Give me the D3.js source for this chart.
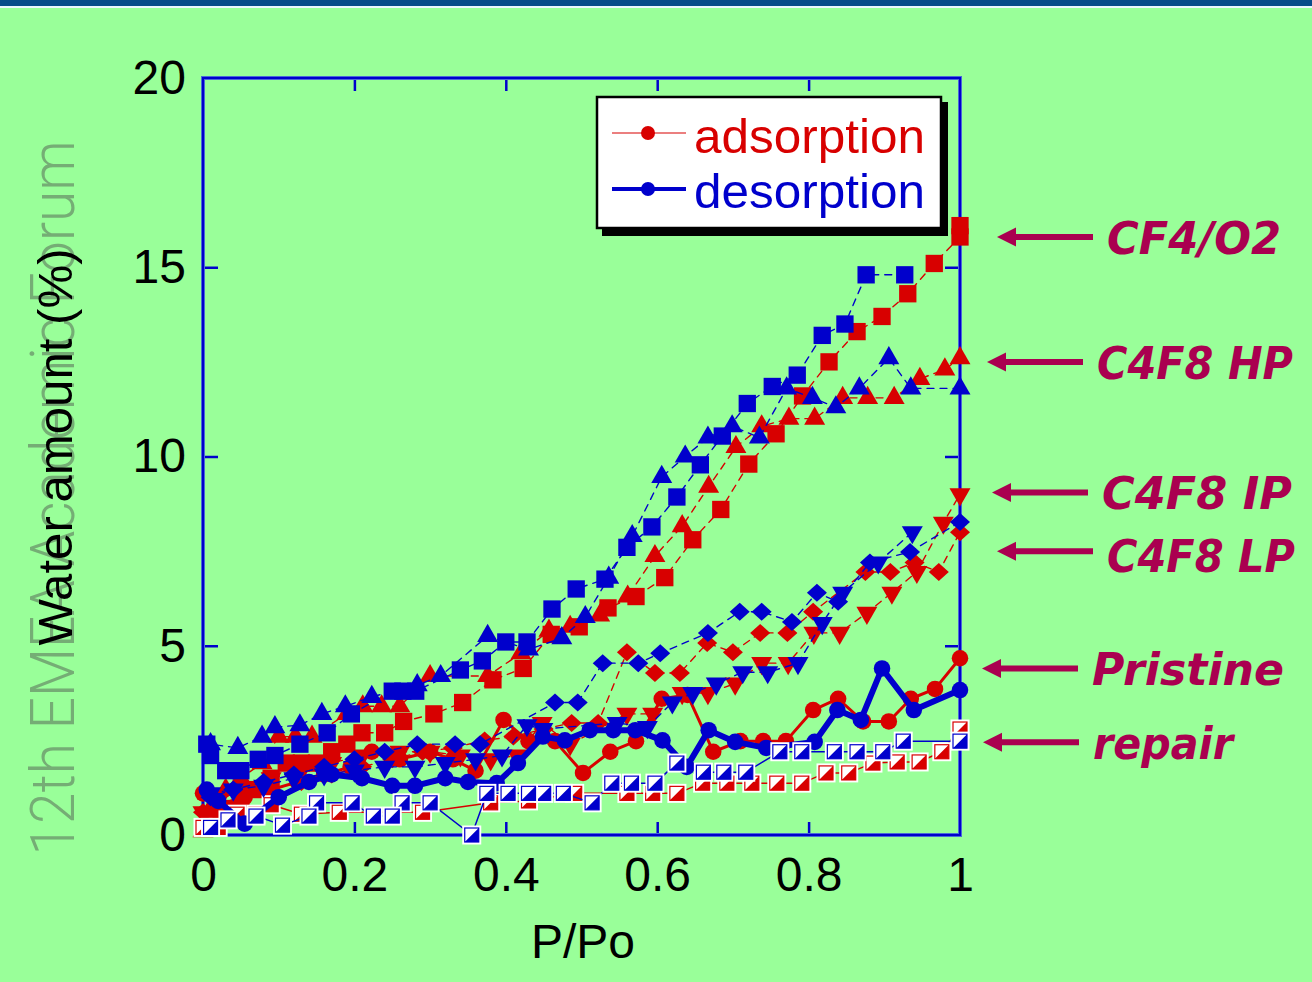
<!DOCTYPE html>
<html>
<head>
<meta charset="utf-8">
<script src="https://cdn.jsdelivr.net/npm/d3@7"></script>
<style>
  html, body { margin: 0; padding: 0; background: #99ff99; }
  svg { display: block; }
</style>
</head>
<body>
<svg id="chart" width="1312" height="982"></svg>
<script>
// ---- Water uptake isotherms: relative pressure P/Po vs water amount (%) ----

// CF4/O2 (squares)
const cf4AdsP = [0, 0.01, 0.03, 0.05, 0.07, 0.09, 0.11, 0.13, 0.15, 0.17, 0.19, 0.21, 0.24, 0.265, 0.305, 0.343, 0.383, 0.423, 0.46, 0.497, 0.535, 0.572, 0.61, 0.647, 0.684, 0.721, 0.757, 0.792, 0.827, 0.864, 0.897, 0.931, 0.966, 1.0, 1.0];
const cf4AdsW = [0.2, 0.4, 0.7, 0.9, 1.2, 1.5, 1.9, 1.9, 1.9, 2.2, 2.4, 2.7, 2.7, 3.0, 3.2, 3.5, 4.1, 4.4, 5.3, 5.5, 6.0, 6.3, 6.8, 7.8, 8.6, 9.8, 10.6, 11.6, 12.5, 13.3, 13.7, 14.3, 15.1, 15.8, 16.1];
const cf4DesP = [0.927, 0.876, 0.848, 0.818, 0.785, 0.752, 0.719, 0.686, 0.657, 0.626, 0.593, 0.56, 0.531, 0.493, 0.461, 0.428, 0.40, 0.369, 0.34, 0.281, 0.264, 0.25, 0.196, 0.164, 0.128, 0.095, 0.073, 0.05, 0.03, 0.01, 0.005];
const cf4DesW = [14.8, 14.8, 13.5, 13.2, 12.15, 11.85, 11.4, 10.54, 9.78, 8.93, 8.14, 7.6, 6.76, 6.5, 5.97, 5.1, 5.1, 4.6, 4.36, 3.8, 3.8, 3.8, 3.2, 2.7, 2.4, 2.1, 2.0, 1.7, 1.7, 2.1, 2.4];

// C4F8 HP (up triangles)
const hpAdsP = [0, 0.01, 0.03, 0.05, 0.078, 0.10, 0.122, 0.144, 0.19, 0.211, 0.236, 0.26, 0.30, 0.376, 0.42, 0.457, 0.485, 0.524, 0.561, 0.597, 0.633, 0.668, 0.704, 0.738, 0.774, 0.808, 0.845, 0.878, 0.913, 0.947, 0.98, 1.0];
const hpAdsW = [0.1, 0.7, 1.2, 1.5, 1.9, 2.6, 2.6, 2.6, 3.2, 3.4, 3.4, 3.4, 4.2, 4.2, 4.8, 5.4, 5.5, 5.8, 6.3, 7.37, 8.16, 9.2, 10.25, 10.8, 11.0, 11.0, 11.55, 11.55, 11.55, 12.05, 12.3, 12.6];
const hpDesP = [1.0, 0.935, 0.906, 0.867, 0.836, 0.805, 0.771, 0.735, 0.699, 0.667, 0.637, 0.606, 0.567, 0.536, 0.505, 0.474, 0.43, 0.376, 0.314, 0.283, 0.223, 0.188, 0.157, 0.128, 0.095, 0.078, 0.046, 0.01];
const hpDesW = [11.8, 11.8, 12.6, 11.8, 11.3, 11.55, 11.8, 10.5, 10.8, 10.5, 10.0, 9.46, 7.9, 6.8, 5.76, 5.2, 4.9, 5.26, 4.2, 3.96, 3.65, 3.4, 3.2, 2.9, 2.85, 2.6, 2.3, 2.4];

// C4F8 IP (down triangles)
const ipAdsP = [0, 0.02, 0.05, 0.09, 0.13, 0.17, 0.21, 0.26, 0.30, 0.34, 0.38, 0.415, 0.448, 0.485, 0.56, 0.594, 0.633, 0.667, 0.703, 0.738, 0.773, 0.807, 0.841, 0.877, 0.91, 0.943, 0.978, 1.0];
const ipAdsW = [0.6, 0.9, 1.2, 1.5, 1.7, 1.9, 2.1, 2.2, 2.2, 2.1, 2.0, 2.1, 2.96, 2.4, 3.2, 3.2, 3.75, 3.75, 4.0, 4.54, 4.54, 5.34, 5.34, 5.87, 6.4, 6.95, 8.25, 9.0];
const ipDesP = [0.937, 0.892, 0.845, 0.818, 0.786, 0.746, 0.713, 0.678, 0.647, 0.62, 0.587, 0.547, 0.449, 0.428, 0.395, 0.36, 0.32, 0.28, 0.24, 0.20, 0.16, 0.12, 0.08, 0.04, 0.01];
const ipDesW = [8.0, 7.2, 6.4, 5.6, 4.54, 4.3, 4.3, 4.0, 3.75, 3.5, 2.85, 2.96, 2.8, 2.9, 2.1, 2.0, 1.9, 1.8, 1.8, 1.7, 1.6, 1.5, 1.3, 1.2, 1.1];

// C4F8 LP (diamonds)
const lpAdsP = [0, 0.02, 0.05, 0.09, 0.13, 0.17, 0.21, 0.25, 0.29, 0.33, 0.372, 0.41, 0.45, 0.487, 0.522, 0.56, 0.597, 0.63, 0.666, 0.70, 0.736, 0.772, 0.806, 0.875, 0.908, 0.94, 0.972, 1.0];
const lpAdsW = [0.6, 0.8, 1.0, 1.2, 1.4, 1.6, 1.8, 2.0, 2.2, 2.3, 2.5, 2.6, 2.8, 2.96, 2.96, 4.83, 4.28, 4.28, 5.07, 4.83, 5.34, 5.34, 5.9, 6.95, 6.95, 7.2, 6.95, 8.0];
const lpDesP = [1.0, 0.934, 0.881, 0.839, 0.811, 0.778, 0.738, 0.709, 0.667, 0.604, 0.575, 0.528, 0.495, 0.465, 0.366, 0.333, 0.283, 0.24, 0.20, 0.16, 0.12, 0.08, 0.04, 0.01];
const lpDesW = [8.27, 7.48, 7.2, 6.16, 6.4, 5.63, 5.9, 5.9, 5.34, 4.8, 4.54, 4.54, 3.5, 3.5, 2.4, 2.4, 2.4, 2.2, 2.0, 1.8, 1.6, 1.4, 1.2, 1.0];

// Pristine (circles)
const priAdsP = [0, 0.02, 0.055, 0.09, 0.125, 0.16, 0.195, 0.223, 0.26, 0.30, 0.33, 0.36, 0.397, 0.43, 0.465, 0.502, 0.538, 0.572, 0.606, 0.64, 0.674, 0.71, 0.74, 0.77, 0.806, 0.839, 0.872, 0.906, 0.935, 0.967, 1.0];
const priAdsW = [1.1, 0.8, 1.0, 1.2, 1.4, 1.6, 1.8, 2.2, 2.0, 2.2, 2.0, 1.7, 3.04, 2.48, 2.48, 1.64, 2.2, 2.48, 3.6, 3.7, 2.2, 2.48, 2.48, 2.48, 3.3, 3.6, 3.0, 3.0, 3.6, 3.86, 4.67];
const priDesP = [1.0, 0.939, 0.897, 0.869, 0.838, 0.808, 0.744, 0.703, 0.668, 0.639, 0.607, 0.571, 0.542, 0.511, 0.478, 0.449, 0.416, 0.388, 0.35, 0.32, 0.28, 0.25, 0.21, 0.17, 0.14, 0.10, 0.055, 0.02, 0.005];
const priDesW = [3.83, 3.3, 4.4, 3.04, 3.3, 2.46, 2.3, 2.46, 2.77, 1.8, 2.5, 2.77, 2.77, 2.77, 2.5, 2.6, 1.9, 1.37, 1.4, 1.5, 1.3, 1.3, 1.5, 1.6, 1.4, 1.0, 0.3, 0.9, 1.2];

// repair (half-filled squares)
const repAdsP = [0, 0.02, 0.045, 0.07, 0.09, 0.13, 0.18, 0.29, 0.38, 0.43, 0.491, 0.56, 0.594, 0.626, 0.66, 0.692, 0.725, 0.758, 0.791, 0.823, 0.853, 0.885, 0.917, 0.946, 0.976, 1.0];
const repAdsW = [0.2, 0.2, 0.55, 0.55, 0.8, 0.55, 0.6, 0.6, 0.85, 0.9, 1.1, 1.1, 1.1, 1.1, 1.37, 1.37, 1.37, 1.37, 1.37, 1.64, 1.64, 1.9, 1.93, 1.93, 2.2, 2.8];
const repDesP = [1.0, 0.925, 0.898, 0.864, 0.834, 0.791, 0.762, 0.717, 0.688, 0.661, 0.626, 0.597, 0.566, 0.54, 0.514, 0.476, 0.45, 0.43, 0.403, 0.375, 0.355, 0.30, 0.263, 0.25, 0.225, 0.197, 0.15, 0.14, 0.105, 0.07, 0.033, 0.01];
const repDesW = [2.48, 2.48, 2.2, 2.2, 2.2, 2.2, 2.2, 1.66, 1.66, 1.66, 1.9, 1.37, 1.37, 1.37, 0.85, 1.1, 1.1, 1.1, 1.1, 1.1, 0.0, 0.85, 0.85, 0.5, 0.5, 0.85, 0.85, 0.5, 0.26, 0.5, 0.4, 0.2];

// Axis ticks and labels
const xTicks = [0, 0.2, 0.4, 0.6, 0.8, 1];
const yTicks = [0, 5, 10, 15, 20];
const legendLabels = ["adsorption", "desorption"];
const sampleLabels = ["CF4/O2", "C4F8 HP", "C4F8 IP", "C4F8 LP", "Pristine", "repair"];
// water level each sample label points to
const sampleLevels = [15.8, 12.5, 9.05, 7.5, 4.4, 2.45];

// ---- drawing ----
const RED = "#d80000", BLUE = "#0000cc", ARROW = "#aa0050";
const svg = d3.select("#chart");
const W = 1312, H = 982;
const plot = { left: 203, right: 960, top: 78, bottom: 835 };

const x = d3.scaleLinear().domain([0, 1]).range([plot.left, plot.right]);
const y = d3.scaleLinear().domain([0, 20]).range([plot.bottom, plot.top]);

// page background and header band
svg.append("rect").attr("width", W).attr("height", H).attr("fill", "#99ff99");
svg.append("rect").attr("width", W).attr("height", 6).attr("fill", "#064b8a");
svg.append("rect").attr("y", 6).attr("width", W).attr("height", 2).attr("fill", "#eaf6ff");

// faint vertical event caption on the left
svg.append("text")
  .attr("transform", "translate(74,498) rotate(-90)")
  .attr("text-anchor", "middle")
  .attr("font-family", "Roboto, 'Open Sans', sans-serif")
  .attr("font-weight", 300)
  .attr("font-size", 62)
  .attr("textLength", 715)
  .attr("lengthAdjust", "spacingAndGlyphs")
  .attr("fill", "#6f9f6f")
  .attr("fill-opacity", 0.85)
  .text("12th EMEA Academic Forum");

// y axis title
svg.append("text")
  .attr("transform", "translate(72,447) rotate(-90)")
  .attr("text-anchor", "middle")
  .attr("font-family", "'Liberation Sans', Arial, sans-serif")
  .attr("font-size", 48)
  .attr("textLength", 397)
  .attr("lengthAdjust", "spacingAndGlyphs")
  .attr("fill", "#000")
  .text("Water amount (%)");

// x axis title
svg.append("text")
  .attr("x", 583).attr("y", 958)
  .attr("text-anchor", "middle")
  .attr("font-family", "'Liberation Sans', Arial, sans-serif")
  .attr("font-size", 48)
  .attr("fill", "#000")
  .text("P/Po");

// axes with inward ticks
function styleAxis(g, showLabels) {
  g.select(".domain").remove();
  g.selectAll(".tick line").attr("stroke", BLUE).attr("stroke-width", 2.5);
  g.selectAll(".tick text")
    .attr("font-family", "'Liberation Sans', Arial, sans-serif")
    .attr("font-size", 48)
    .attr("fill", "#000")
    .style("display", showLabels ? null : "none");
}
svg.append("g").attr("transform", `translate(${plot.left},0)`)
  .call(d3.axisLeft(y).tickValues(yTicks).tickSizeInner(-15).tickSizeOuter(0).tickPadding(17).tickFormat(d3.format("d")))
  .call(g => styleAxis(g, true));
svg.append("g").attr("transform", `translate(${plot.right},0)`)
  .call(d3.axisRight(y).tickValues(yTicks).tickSizeInner(-15).tickSizeOuter(0))
  .call(g => styleAxis(g, false));
svg.append("g").attr("transform", `translate(0,${plot.bottom})`)
  .call(d3.axisBottom(x).tickValues(xTicks).tickSizeInner(-13).tickSizeOuter(0).tickPadding(22).tickFormat(d => d === 0 || d === 1 ? String(d) : d3.format(".1f")(d)))
  .call(g => styleAxis(g, true));
svg.append("g").attr("transform", `translate(0,${plot.top})`)
  .call(d3.axisTop(x).tickValues(xTicks).tickSizeInner(-13).tickSizeOuter(0))
  .call(g => styleAxis(g, false));

// plot frame
svg.append("rect")
  .attr("x", plot.left).attr("y", plot.top)
  .attr("width", plot.right - plot.left).attr("height", plot.bottom - plot.top)
  .attr("fill", "none").attr("stroke", "#4a6ad8").attr("stroke-width", 4);
svg.append("rect")
  .attr("x", plot.left).attr("y", plot.top)
  .attr("width", plot.right - plot.left).attr("height", plot.bottom - plot.top)
  .attr("fill", "none").attr("stroke", BLUE).attr("stroke-width", 2);

// series table
const zip = (P, Wv) => P.map((p, i) => ({ p, w: Wv[i] }));
const series = [
  { shape: "square",  color: RED,  line: "thin",  data: zip(cf4AdsP, cf4AdsW) },
  { shape: "up",      color: RED,  line: "thin",  data: zip(hpAdsP, hpAdsW) },
  { shape: "down",    color: RED,  line: "thin",  data: zip(ipAdsP, ipAdsW) },
  { shape: "diamond", color: RED,  line: "thin",  data: zip(lpAdsP, lpAdsW) },
  { shape: "circle",  color: RED,  line: "ads",   data: zip(priAdsP, priAdsW) },
  { shape: "half",    color: RED,  line: "solid", data: zip(repAdsP, repAdsW) },
  { shape: "square",  color: BLUE, line: "thin",  data: zip(cf4DesP, cf4DesW) },
  { shape: "up",      color: BLUE, line: "thin",  data: zip(hpDesP, hpDesW) },
  { shape: "down",    color: BLUE, line: "thin",  data: zip(ipDesP, ipDesW) },
  { shape: "diamond", color: BLUE, line: "thin",  data: zip(lpDesP, lpDesW) },
  { shape: "circle",  color: BLUE, line: "des",   data: zip(priDesP, priDesW) },
  { shape: "half",    color: BLUE, line: "solid", data: zip(repDesP, repDesW) }
];

const lineGen = d3.line().x(d => x(d.p)).y(d => y(d.w));

const sym = {
  square: d3.symbol().type(d3.symbolSquare).size(300)(),
  up: d3.symbol().type(d3.symbolTriangle).size(190)(),
  down: d3.symbol().type(d3.symbolTriangle).size(190)(),
  circle: d3.symbol().type(d3.symbolCircle).size(215)()
};

function drawMarker(g, shape, color) {
  if (shape === "diamond") {
    g.append("path").attr("d", "M0,-9L10,0L0,9L-10,0Z").attr("fill", color);
  } else if (shape === "half") {
    g.append("rect").attr("x", -8.5).attr("y", -8.5).attr("width", 17).attr("height", 17)
      .attr("fill", "#fff").attr("stroke", "#fff").attr("stroke-width", 2);
    g.append("path").attr("d", "M7,-7L7,7L-7,7Z").attr("fill", color);
    g.append("rect").attr("x", -7).attr("y", -7).attr("width", 14).attr("height", 14)
      .attr("fill", "none").attr("stroke", color).attr("stroke-width", 1.2);
  } else {
    const p = g.append("path").attr("d", sym[shape]).attr("fill", color);
    if (shape === "down") p.attr("transform", "rotate(180)");
  }
}

const dataLayer = svg.append("g");
series.forEach(s => {
  const path = dataLayer.append("path").datum(s.data)
    .attr("d", lineGen).attr("fill", "none").attr("stroke", s.color)
    .attr("stroke-linejoin", "round").attr("stroke-linecap", "round");
  if (s.line === "thin") path.attr("stroke-width", 1.4).attr("stroke-dasharray", "7,6");
  else if (s.line === "ads") path.attr("stroke-width", 3);
  else if (s.line === "des") path.attr("stroke-width", 6);
  else path.attr("stroke-width", 1.5);

  dataLayer.append("g").selectAll("g").data(s.data).join("g")
    .attr("transform", d => `translate(${x(d.p)},${y(d.w)})`)
    .each(function () { drawMarker(d3.select(this), s.shape, s.color); });
});

// legend
const lg = svg.append("g");
lg.append("rect").attr("x", 602).attr("y", 102).attr("width", 346).attr("height", 134).attr("fill", "#000");
lg.append("rect").attr("x", 597).attr("y", 97).attr("width", 344).attr("height", 131)
  .attr("fill", "#fff").attr("stroke", "#000").attr("stroke-width", 2.5);
const legendRows = [
  { label: legendLabels[0], color: RED, width: 1.2, yy: 133, base: 153 },
  { label: legendLabels[1], color: BLUE, width: 4, yy: 189, base: 208 }
];
legendRows.forEach(r => {
  lg.append("line").attr("x1", 612).attr("x2", 686).attr("y1", r.yy).attr("y2", r.yy)
    .attr("stroke", r.color).attr("stroke-width", r.width);
  lg.append("circle").attr("cx", 648).attr("cy", r.yy).attr("r", 7).attr("fill", r.color);
  lg.append("text").attr("x", 694).attr("y", r.base)
    .attr("font-family", "'Liberation Sans', Arial, sans-serif")
    .attr("font-size", 48).attr("fill", r.color)
    .attr("textLength", 231).attr("lengthAdjust", "spacingAndGlyphs")
    .text(r.label);
});

// sample labels with arrows
const tipX = [997, 987, 992, 997, 982, 983];
const labelW = [174, 196, 190, 188, 192, 140];
const ann = svg.append("g");
sampleLabels.forEach((t, i) => {
  const ay = y(sampleLevels[i]);
  const tx = tipX[i];
  ann.append("line").attr("x1", tx + 12).attr("x2", tx + 96).attr("y1", ay).attr("y2", ay)
    .attr("stroke", ARROW).attr("stroke-width", 6);
  ann.append("path").attr("d", `M${tx},${ay}L${tx + 19},${ay - 9.5}L${tx + 19},${ay + 9.5}Z`).attr("fill", ARROW);
  ann.append("text").attr("x", tx + 110).attr("y", ay + (i === 3 ? 21 : 17))
    .attr("font-family", "'DejaVu Sans', sans-serif")
    .attr("font-weight", "bold").attr("font-style", "italic")
    .attr("font-size", 45).attr("fill", ARROW)
    .attr("textLength", labelW[i]).attr("lengthAdjust", "spacingAndGlyphs")
    .text(t);
});
</script>
</body>
</html>
